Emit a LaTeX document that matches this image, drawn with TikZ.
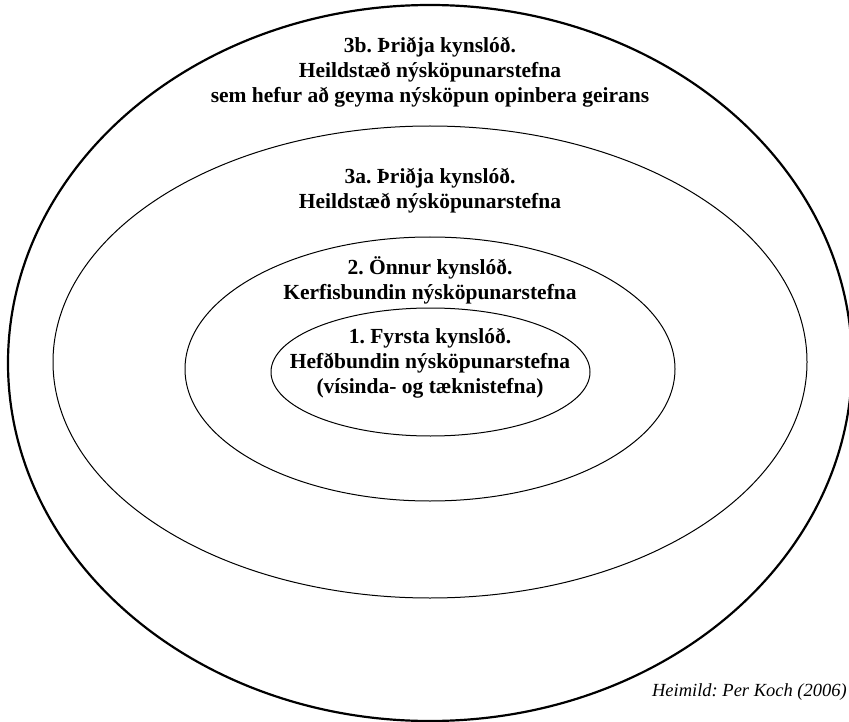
\documentclass[tikz,border=0pt]{standalone}
\usepackage{fontspec}
\setmainfont{Liberation Serif}
\usetikzlibrary{shapes.geometric}
\frenchspacing

\begin{document}
\begin{tikzpicture}[x=1pt,y=-1pt]
    \tikzset{ring/.style={draw, ellipse, inner sep=0pt, line width=1pt},
      outerring/.style={ring, line width=2.2pt},
      gentext/.style={align=center, inner sep=0pt,
        font=\bfseries\fontsize{21.5}{25}\selectfont},
    }
    \useasboundingbox (0,0) rectangle (849,722);
    % the four generations
    \node[outerring, minimum width=844pt, minimum height=716pt] at (430,363) (gen3b) {};
    \node[ring, minimum width=754pt, minimum height=472pt] at (430,362) (gen3a) {};
    \node[ring, minimum width=490pt, minimum height=264pt] at (430,369) (gen2) {};
    \node[ring, minimum width=319pt, minimum height=128pt] at (430.5,372) (gen1) {};

    \node[gentext] at (430,72) (txt3b) {3b. Þriðja kynslóð.\\ Heildstæð nýsköpunarstefna\\ sem hefur að geyma nýsköpun opinbera geirans};
    \node[gentext] at (430,190.5) (txt3a) {3a. Þriðja kynslóð.\\ Heildstæð nýsköpunarstefna};
    \node[gentext] at (430,280.5) (txt2) {2. Önnur kynslóð.\\ Kerfisbundin nýsköpunarstefna};
    \node[gentext] at (430,363) (txt1) {1. Fyrsta kynslóð.\\ Hefðbundin nýsköpunarstefna\\ (vísinda- og tæknistefna)};

    \node[anchor=east, inner sep=0pt, font=\itshape\fontsize{18.5}{20}\selectfont] at (847,692) (source) {Heimild: Per Koch (2006)};
  \end{tikzpicture}
\end{document}
